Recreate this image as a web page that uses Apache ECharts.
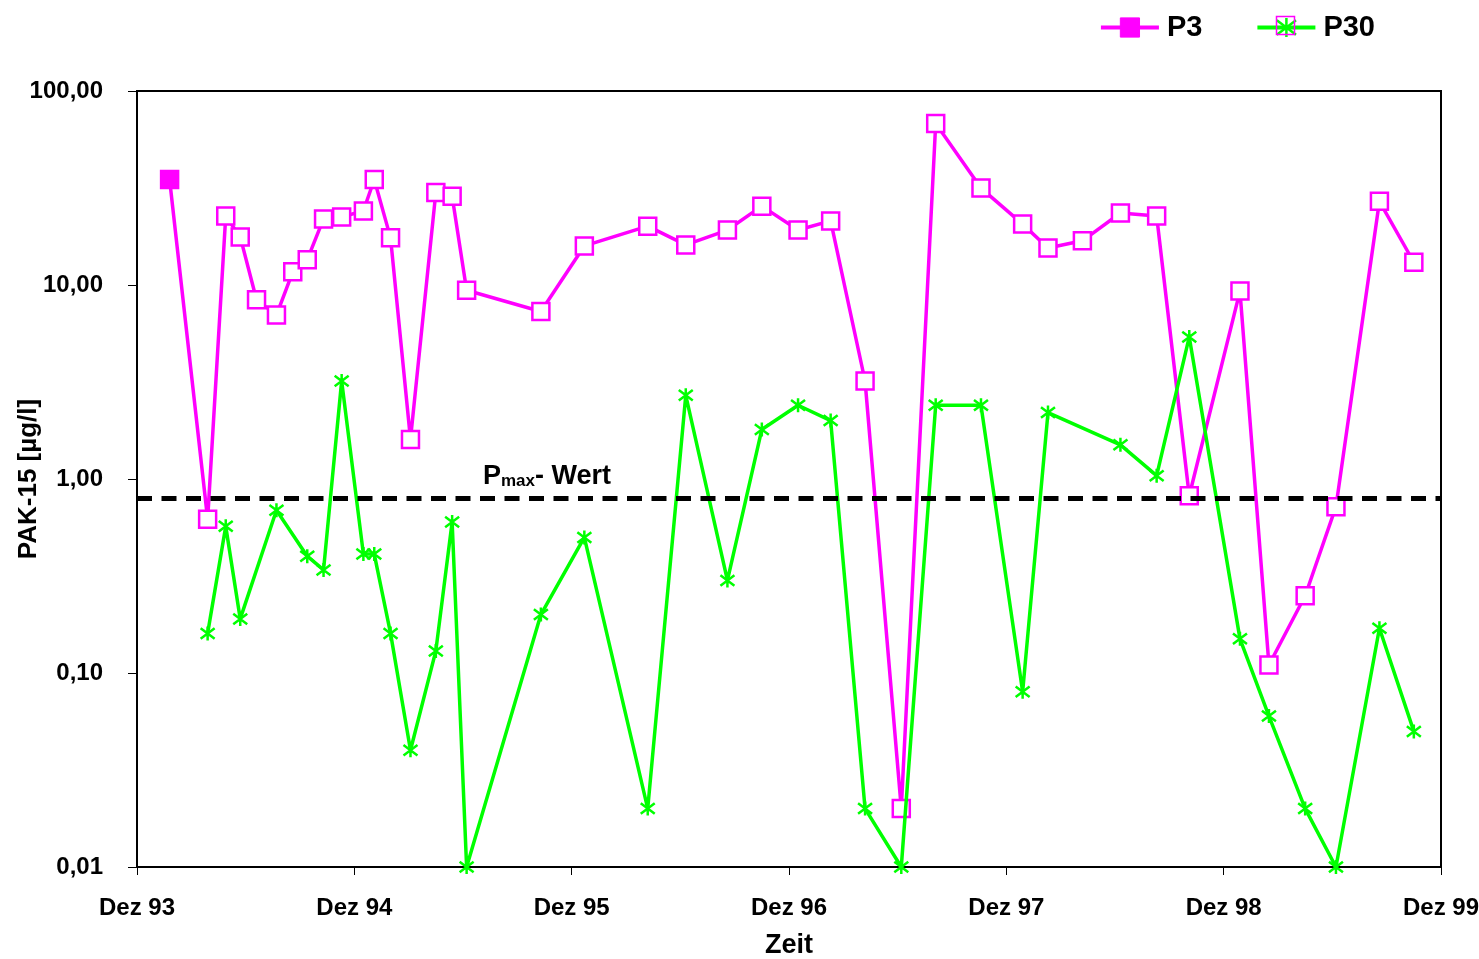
<!DOCTYPE html>
<html>
<head>
<meta charset="utf-8">
<script src="https://cdn.jsdelivr.net/npm/echarts@6/dist/echarts.min.js"></script>
<style>html,body{margin:0;padding:0;background:#fff;}#chart{width:1479px;height:959px;}</style>
</head>
<body>
<div id="chart"></div>
<script>
// x values are months after "Dez 93"
const xTickLabels = ['Dez 93', 'Dez 94', 'Dez 95', 'Dez 96', 'Dez 97', 'Dez 98', 'Dez 99'];
const p3Months = [1.8, 3.9, 4.9, 5.7, 6.6, 7.7, 8.6, 9.4, 10.3, 11.3, 12.5, 13.1, 14.0, 15.1, 16.5, 17.4, 18.2, 22.3, 24.7, 28.2, 30.3, 32.6, 34.5, 36.5, 38.3, 40.2, 42.2, 44.1, 46.6, 48.9, 50.3, 52.2, 54.3, 56.3, 58.1, 60.9, 62.5, 64.5, 66.2, 68.6, 70.5];
const p3Values = [35, 0.62, 22.7, 17.7, 8.4, 7.0, 11.7, 13.5, 21.9, 22.4, 24.1, 35, 17.5, 1.6, 30, 28.7, 9.4, 7.3, 15.9, 20.1, 16.1, 19.2, 25.5, 19.2, 21.4, 3.2, 0.02, 68, 31.6, 20.6, 15.5, 16.9, 23.5, 22.7, 0.82, 9.3, 0.11, 0.25, 0.72, 27, 13.1];
const p30Months = [3.9, 4.9, 5.7, 7.7, 9.4, 10.3, 11.3, 12.5, 13.1, 14.0, 15.1, 16.5, 17.4, 18.2, 22.3, 24.7, 28.2, 30.3, 32.6, 34.5, 36.5, 38.3, 40.2, 42.2, 44.1, 46.6, 48.9, 50.3, 54.3, 56.3, 58.1, 60.9, 62.5, 64.5, 66.2, 68.6, 70.5];
const p30Values = [0.16, 0.57, 0.19, 0.69, 0.40, 0.34, 3.2, 0.41, 0.41, 0.16, 0.04, 0.13, 0.6, 0.01, 0.2, 0.5, 0.02, 2.7, 0.3, 1.8, 2.4, 2.0, 0.02, 0.01, 2.4, 2.4, 0.08, 2.2, 1.5, 1.04, 5.4, 0.15, 0.06, 0.02, 0.01, 0.17, 0.05];
const pmaxValue = 0.8;
const pmaxLabelMonth = 19.1;

const MAG = '#ff00ff';
const GRN = '#00ff00';
const FONT = '"Liberation Sans", Arial, sans-serif';
const ASTER = 'path://M6,0L6,12M0,1.5L12,10.5M0,10.5L12,1.5';

const p3Data = p3Months.map((m, i) => {
  const d = { value: [m, p3Values[i]] };
  if (i === 0) d.itemStyle = { color: MAG };
  return d;
});
const p30Data = p30Months.map((m, i) => [m, p30Values[i]]);

const chart = echarts.init(document.getElementById('chart'), null, { renderer: 'canvas' });
chart.setOption({
  animation: false,
  backgroundColor: '#fff',
  textStyle: { fontFamily: FONT },
  grid: { left: 137, right: 38, top: 91, bottom: 92, containLabel: false, outerBoundsMode: 'none',
    show: true, borderColor: '#000', borderWidth: 2, backgroundColor: 'transparent' },
  legend: {
    right: 99, top: 8,
    itemWidth: 58, itemHeight: 24, itemGap: 53,
    textStyle: { fontFamily: FONT, fontWeight: 'bold', fontSize: 29, color: '#000', padding: [0, 0, 0, 3] },
    data: [
      { name: 'P3', itemStyle: { color: MAG, borderColor: MAG, borderWidth: 1 } },
      { name: 'P30', itemStyle: { color: GRN, borderColor: GRN, borderWidth: 2.5 } }
    ],
    lineStyle: { width: 4 }
  },
  graphic: [
    { type: 'rect', right: 182, top: 14, z: 100, silent: true,
      shape: { width: 18, height: 18 }, style: { fill: 'none', stroke: MAG, lineWidth: 1.5 } }
  ],
  xAxis: {
    type: 'value', min: 0, max: 72, interval: 12,
    name: 'Zeit', nameLocation: 'middle', nameGap: 65, nameMoveOverlap: false,
    nameTextStyle: { fontFamily: FONT, fontWeight: 'bold', fontSize: 27, color: '#000' },
    axisLine: { lineStyle: { color: '#000', width: 2 } },
    axisTick: { show: true, length: 8, lineStyle: { color: '#000', width: 1 } },
    axisLabel: { margin: 29, fontFamily: FONT, fontWeight: 'bold', fontSize: 24, color: '#000',
      formatter: v => xTickLabels[Math.round(v / 12)] },
    splitLine: { show: false }
  },
  yAxis: {
    type: 'log', logBase: 10, min: 0.01, max: 100,
    name: 'PAK-15 [µg/l]', nameLocation: 'middle', nameGap: 95, nameRotate: 90, nameMoveOverlap: false,
    nameTextStyle: { fontFamily: FONT, fontWeight: 'bold', fontSize: 26, color: '#000' },
    axisLine: { show: true, lineStyle: { color: '#000', width: 2 } },
    axisTick: { show: true, length: 9, lineStyle: { color: '#000', width: 1 } },
    axisLabel: { margin: 34, fontFamily: FONT, fontWeight: 'bold', fontSize: 24, color: '#000',
      formatter: v => v.toFixed(2).replace('.', ',') },
    splitLine: { show: false },
    minorTick: { show: false }
  },
  series: [
    {
      name: 'Pmax', type: 'line', data: [], z: 1, silent: true,
      markLine: {
        silent: true, symbol: 'none', animation: false,
        lineStyle: { color: '#000', width: 5, type: [15, 9.5] },
        label: { show: false },
        data: [{ yAxis: pmaxValue }]
      },
      markPoint: {
        silent: true, symbol: 'circle', symbolSize: 0,
        label: {
          show: true, position: [0, -8], align: 'left', verticalAlign: 'bottom',
          formatter: '{p|P}{s|max}{w|- Wert}',
          rich: {
            p: { fontFamily: FONT, fontWeight: 'bold', fontSize: 27, color: '#000', lineHeight: 30, verticalAlign: 'bottom' },
            s: { fontFamily: FONT, fontWeight: 'bold', fontSize: 17, color: '#000', lineHeight: 16, verticalAlign: 'bottom' },
            w: { fontFamily: FONT, fontWeight: 'bold', fontSize: 27, color: '#000', lineHeight: 30, verticalAlign: 'bottom' }
          }
        },
        data: [{ coord: [pmaxLabelMonth, pmaxValue] }]
      }
    },
    {
      name: 'P3', type: 'line', z: 3, clip: false,
      data: p3Data,
      symbol: 'rect', symbolSize: 17,
      lineStyle: { color: MAG, width: 3.5 },
      itemStyle: { color: '#fff', borderColor: MAG, borderWidth: 2.5 },
      emphasis: { disabled: true }
    },
    {
      name: 'P30', type: 'line', z: 4, clip: false,
      data: p30Data,
      symbol: ASTER, symbolSize: 14,
      lineStyle: { color: GRN, width: 3.5 },
      itemStyle: { color: GRN, borderColor: GRN, borderWidth: 2.5 },
      emphasis: { disabled: true }
    }
  ]
});
</script>
</body>
</html>
